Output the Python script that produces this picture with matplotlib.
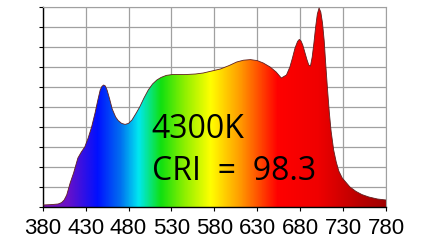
import numpy as np
import matplotlib
matplotlib.use("Agg")
import matplotlib.pyplot as plt
import matplotlib.font_manager as fm
from matplotlib.colors import LinearSegmentedColormap
from matplotlib.patches import Polygon

# spectrum (relative power, peak = 1)
wavelength = [380, 390, 398, 402, 405, 408, 412, 416, 421, 425, 429, 433, 437,
              441, 444, 447, 449, 451, 453, 455, 458, 461, 465, 468, 472, 476,
              480, 484, 489, 493, 498, 503, 508, 513, 518, 524, 532, 545, 558,
              567, 577, 587, 597, 606, 614, 622, 630, 637, 645, 652, 658, 664,
              668, 671, 674, 677, 679, 681, 683, 686, 688, 690, 692, 694, 696,
              698, 700, 702, 704, 706, 708, 710, 712, 714, 716, 719, 722, 725,
              729, 733, 738, 745, 752, 760, 770, 780]
power = [0.010, 0.012, 0.015, 0.022, 0.035, 0.06, 0.12, 0.17, 0.245, 0.275,
         0.30, 0.345, 0.40, 0.47, 0.53, 0.585, 0.603, 0.61, 0.605, 0.585,
         0.54, 0.49, 0.45, 0.432, 0.418, 0.413, 0.418, 0.435, 0.47, 0.50,
         0.545, 0.585, 0.615, 0.635, 0.648, 0.658, 0.663, 0.662, 0.665,
         0.670, 0.680, 0.690, 0.707, 0.725, 0.734, 0.737, 0.732, 0.720,
         0.700, 0.675, 0.645, 0.660, 0.700, 0.745, 0.795, 0.828, 0.838,
         0.83, 0.81, 0.765, 0.735, 0.71, 0.705, 0.75, 0.82, 0.90, 0.965,
         0.995, 0.975, 0.92, 0.83, 0.70, 0.58, 0.47, 0.38, 0.285, 0.225,
         0.18, 0.145, 0.125, 0.10, 0.078, 0.062, 0.05, 0.04, 0.035]
xticks = [380, 430, 480, 530, 580, 630, 680, 730, 780]
cct_label = "4300K"
cri_label = "CRI = 98.3"

# colour stops along the wavelength axis
stops = [(380, "#7a1ab4"), (408, "#6a10c8"), (443, "#0010ff"), (470, "#0070f0"),
         (491, "#00e8f0"), (517, "#10e010"), (545, "#90f000"), (575, "#ffff00"),
         (610, "#ff9900"), (653, "#ff0000"), (700, "#f00000"), (750, "#b80000"),
         (780, "#a00000")]
cmap = LinearSegmentedColormap.from_list(
    "spec", [((w - 380) / 400, c) for w, c in stops])

# pick a narrow face for the tick labels if one is installed
fonts = fm.fontManager.ttflist
names = {f.name for f in fonts}
tick_kw = {"family": "Liberation Sans", "fontsize": 16}
if "Liberation Sans Narrow" in names:
    tick_kw = {"family": "Liberation Sans Narrow", "fontsize": 17}
big_font = "Noto Sans CJK KR" if "Noto Sans CJK KR" in names else "Open Sans"

fig = plt.figure(figsize=(4.21, 2.40), dpi=100)
ax = fig.add_axes([0.1014, 0.1375, 0.8155, 0.8333])

ax.set_xlim(380, 780)
ax.set_ylim(0, 1)

grad = np.linspace(0, 1, 512).reshape(1, -1)
img = ax.imshow(grad, cmap=cmap, aspect="auto", extent=[380, 780, 0, 1],
                zorder=2)
verts = list(zip(wavelength, power)) + [(780, 0), (380, 0)]
clip = Polygon(verts, closed=True, facecolor="none", edgecolor="none")
ax.add_patch(clip)
img.set_clip_path(clip)
ax.plot(wavelength, power, color="#602020", lw=0.6, zorder=3)

ax.set_xticks(xticks)
ax.set_yticks(np.arange(0, 1.01, 0.1))
ax.set_yticklabels([])
ax.grid(True, color="#a0a0a0", lw=0.9, zorder=0)
ax.set_axisbelow(True)
for s in ["top", "right"]:
    ax.spines[s].set_color("#a0a0a0")
for s in ["left", "bottom"]:
    ax.spines[s].set_color("black")
    ax.spines[s].set_linewidth(1.0)
ax.tick_params(axis="both", direction="out", length=3, color="black")
ax.tick_params(axis="x", pad=5)
for lbl in ax.get_xticklabels():
    lbl.set(**tick_kw)

ax.text(0.318, 0.39, cct_label, transform=ax.transAxes, fontsize=23,
        family=big_font, weight="medium", color="black", zorder=4,
        va="center")
ax.text(0.318, 0.18, cri_label.replace(" = ", "  =  "), transform=ax.transAxes,
        fontsize=23, family=big_font, weight="medium", color="black",
        zorder=4, va="center")

fig.savefig("out.png", dpi=100)
